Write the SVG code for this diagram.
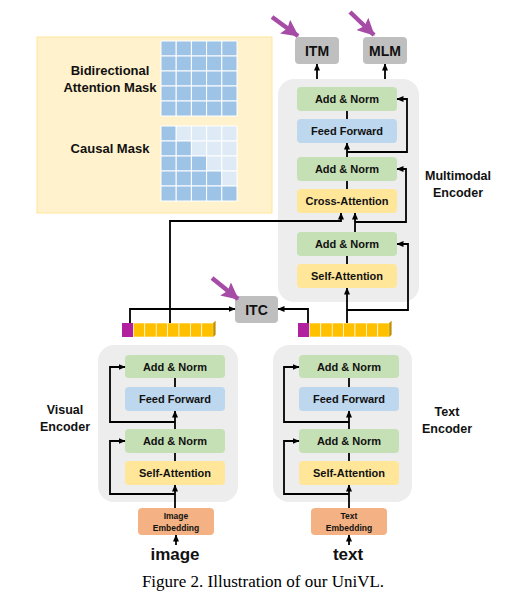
<svg xmlns="http://www.w3.org/2000/svg" width="513" height="610" viewBox="0 0 513 610">
<defs>
<marker id="ah" markerUnits="userSpaceOnUse" markerWidth="7" markerHeight="7" viewBox="0 0 7 7" refX="6.5" refY="3.5" orient="auto"><path d="M0,0.5 L7,3.5 L0,6.5 Z" fill="#000"/></marker>
<marker id="pa" markerUnits="userSpaceOnUse" markerWidth="17" markerHeight="17" viewBox="0 0 17 17" refX="16" refY="8.5" orient="auto"><path d="M0,0 L17,8.5 L0,17 L3,8.5 Z" fill="#a64ca6"/></marker>
</defs>
<style>
.t{font-family:"Liberation Sans",Arial,sans-serif;font-weight:bold;fill:#111;text-anchor:middle}
.b{font-size:11px}
.enc{fill:#ededed}
.g{fill:#c5e0b4}
.bl{fill:#bdd7ee}
.y{fill:#ffe699}
.o{fill:#f4b183}
.gr{fill:#bfbfbf}
.c{fill:none;stroke:#000;stroke-width:1.8}
.ca{fill:none;stroke:#000;stroke-width:1.8;marker-end:url(#ah)}
.p{stroke:#a64ca6;stroke-width:4.5;marker-end:url(#pa)}
.mb{fill:#9dc3e6;stroke:#fff;stroke-width:1}
.ml{fill:#deebf7;stroke:#fff;stroke-width:1}
.tp{fill:#b0209f}
.ty{fill:#ffc000;stroke:#fff;stroke-width:0.6}
.ts{fill:#bf9000}
</style>
<rect width="513" height="610" fill="#fff"/>

<g id="mask-panel">
<rect x="37" y="37" width="235" height="176" fill="#fff2cc" stroke="#ffe699" stroke-width="1"/>
<text class="t" x="110" y="75" font-size="13">Bidirectional</text>
<text class="t" x="110" y="92" font-size="13">Attention Mask</text>
<text class="t" x="110" y="153" font-size="13">Causal Mask</text>
<g id="bidir-grid">
<rect class="mb" x="161" y="41" width="15.2" height="15"/><rect class="mb" x="176.2" y="41" width="15.2" height="15"/><rect class="mb" x="191.4" y="41" width="15.2" height="15"/><rect class="mb" x="206.6" y="41" width="15.2" height="15"/><rect class="mb" x="221.8" y="41" width="15.2" height="15"/>
<rect class="mb" x="161" y="56" width="15.2" height="15"/><rect class="mb" x="176.2" y="56" width="15.2" height="15"/><rect class="mb" x="191.4" y="56" width="15.2" height="15"/><rect class="mb" x="206.6" y="56" width="15.2" height="15"/><rect class="mb" x="221.8" y="56" width="15.2" height="15"/>
<rect class="mb" x="161" y="71" width="15.2" height="15"/><rect class="mb" x="176.2" y="71" width="15.2" height="15"/><rect class="mb" x="191.4" y="71" width="15.2" height="15"/><rect class="mb" x="206.6" y="71" width="15.2" height="15"/><rect class="mb" x="221.8" y="71" width="15.2" height="15"/>
<rect class="mb" x="161" y="86" width="15.2" height="15"/><rect class="mb" x="176.2" y="86" width="15.2" height="15"/><rect class="mb" x="191.4" y="86" width="15.2" height="15"/><rect class="mb" x="206.6" y="86" width="15.2" height="15"/><rect class="mb" x="221.8" y="86" width="15.2" height="15"/>
<rect class="mb" x="161" y="101" width="15.2" height="15"/><rect class="mb" x="176.2" y="101" width="15.2" height="15"/><rect class="mb" x="191.4" y="101" width="15.2" height="15"/><rect class="mb" x="206.6" y="101" width="15.2" height="15"/><rect class="mb" x="221.8" y="101" width="15.2" height="15"/>
</g>
<g id="causal-grid">
<rect class="mb" x="161" y="126" width="15.2" height="15"/><rect class="ml" x="176.2" y="126" width="15.2" height="15"/><rect class="ml" x="191.4" y="126" width="15.2" height="15"/><rect class="ml" x="206.6" y="126" width="15.2" height="15"/><rect class="ml" x="221.8" y="126" width="15.2" height="15"/>
<rect class="mb" x="161" y="141" width="15.2" height="15"/><rect class="mb" x="176.2" y="141" width="15.2" height="15"/><rect class="ml" x="191.4" y="141" width="15.2" height="15"/><rect class="ml" x="206.6" y="141" width="15.2" height="15"/><rect class="ml" x="221.8" y="141" width="15.2" height="15"/>
<rect class="mb" x="161" y="156" width="15.2" height="15"/><rect class="mb" x="176.2" y="156" width="15.2" height="15"/><rect class="mb" x="191.4" y="156" width="15.2" height="15"/><rect class="ml" x="206.6" y="156" width="15.2" height="15"/><rect class="ml" x="221.8" y="156" width="15.2" height="15"/>
<rect class="mb" x="161" y="171" width="15.2" height="15"/><rect class="mb" x="176.2" y="171" width="15.2" height="15"/><rect class="mb" x="191.4" y="171" width="15.2" height="15"/><rect class="mb" x="206.6" y="171" width="15.2" height="15"/><rect class="ml" x="221.8" y="171" width="15.2" height="15"/>
<rect class="mb" x="161" y="186" width="15.2" height="15"/><rect class="mb" x="176.2" y="186" width="15.2" height="15"/><rect class="mb" x="191.4" y="186" width="15.2" height="15"/><rect class="mb" x="206.6" y="186" width="15.2" height="15"/><rect class="mb" x="221.8" y="186" width="15.2" height="15"/>
</g>
</g>

<g id="multimodal-encoder">
<rect class="enc" x="278" y="79" width="141" height="223" rx="16"/>
<text class="t" x="458" y="180" font-size="12.5">Multimodal</text>
<text class="t" x="458" y="197" font-size="12.5">Encoder</text>
</g>
<g id="mm-addnorm-top"><rect class="g" x="297" y="87" width="100" height="24" rx="4"/><text class="t b" x="347" y="103">Add &amp; Norm</text></g>
<g id="mm-ff"><rect class="bl" x="297" y="119" width="100" height="24" rx="4"/><text class="t b" x="347" y="135">Feed Forward</text></g>
<g id="mm-addnorm-mid"><rect class="g" x="297" y="157" width="100" height="24" rx="4"/><text class="t b" x="347" y="173">Add &amp; Norm</text></g>
<g id="mm-cross"><rect class="y" x="297" y="189" width="100" height="24" rx="4"/><text class="t b" x="347" y="205">Cross-Attention</text></g>
<g id="mm-addnorm-bot"><rect class="g" x="297" y="232" width="100" height="24" rx="4"/><text class="t b" x="347" y="248">Add &amp; Norm</text></g>
<g id="mm-self"><rect class="y" x="297" y="264" width="100" height="24" rx="4"/><text class="t b" x="347" y="280">Self-Attention</text></g>

<g id="itm"><rect class="gr" x="295" y="37" width="44" height="27" rx="4"/><text class="t" x="317" y="55.5" font-size="14">ITM</text></g>
<g id="mlm"><rect class="gr" x="363" y="37" width="44" height="27" rx="4"/><text class="t" x="385" y="55.5" font-size="14">MLM</text></g>
<g id="itc"><rect class="gr" x="235" y="296" width="43" height="27" rx="4"/><text class="t" x="256.5" y="314.5" font-size="14">ITC</text></g>

<g id="image-tokens">
<rect class="tp" x="122" y="323" width="11.4" height="14"/>
<rect class="ty" x="133.4" y="323" width="11.4" height="14"/><rect class="ty" x="144.8" y="323" width="11.4" height="14"/><rect class="ty" x="156.2" y="323" width="11.4" height="14"/><rect class="ty" x="167.6" y="323" width="11.4" height="14"/><rect class="ty" x="179" y="323" width="11.4" height="14"/><rect class="ty" x="190.4" y="323" width="11.4" height="14"/><rect class="ty" x="201.8" y="323" width="11.4" height="14"/>
<path class="ts" d="M213.2,323 L215.6,320.8 L215.6,334.8 L213.2,337 Z"/>
</g>
<g id="text-tokens">
<rect class="tp" x="298" y="323" width="11.4" height="14"/>
<rect class="ty" x="309.4" y="323" width="11.4" height="14"/><rect class="ty" x="320.8" y="323" width="11.4" height="14"/><rect class="ty" x="332.2" y="323" width="11.4" height="14"/><rect class="ty" x="343.6" y="323" width="11.4" height="14"/><rect class="ty" x="355" y="323" width="11.4" height="14"/><rect class="ty" x="366.4" y="323" width="11.4" height="14"/><rect class="ty" x="377.8" y="323" width="11.4" height="14"/>
<path class="ts" d="M389.2,323 L391.6,320.8 L391.6,334.8 L389.2,337 Z"/>
</g>

<g id="visual-encoder">
<rect class="enc" x="98" y="345" width="140" height="157" rx="16"/>
<text class="t" x="65" y="414" font-size="12.5">Visual</text>
<text class="t" x="65" y="431" font-size="12.5">Encoder</text>
</g>
<g id="ve-addnorm-top"><rect class="g" x="125" y="355" width="100" height="23" rx="4"/><text class="t b" x="175" y="370.5">Add &amp; Norm</text></g>
<g id="ve-ff"><rect class="bl" x="125" y="387" width="100" height="24" rx="4"/><text class="t b" x="175" y="403">Feed Forward</text></g>
<g id="ve-addnorm-bot"><rect class="g" x="125" y="429" width="100" height="24" rx="4"/><text class="t b" x="175" y="445">Add &amp; Norm</text></g>
<g id="ve-self"><rect class="y" x="125" y="461" width="100" height="24" rx="4"/><text class="t b" x="175" y="477">Self-Attention</text></g>

<g id="text-encoder">
<rect class="enc" x="273" y="345" width="139" height="157" rx="16"/>
<text class="t" x="447" y="416" font-size="12.5">Text</text>
<text class="t" x="447" y="433" font-size="12.5">Encoder</text>
</g>
<g id="te-addnorm-top"><rect class="g" x="299" y="355" width="100" height="23" rx="4"/><text class="t b" x="349" y="370.5">Add &amp; Norm</text></g>
<g id="te-ff"><rect class="bl" x="299" y="387" width="100" height="24" rx="4"/><text class="t b" x="349" y="403">Feed Forward</text></g>
<g id="te-addnorm-bot"><rect class="g" x="299" y="429" width="100" height="24" rx="4"/><text class="t b" x="349" y="445">Add &amp; Norm</text></g>
<g id="te-self"><rect class="y" x="299" y="461" width="100" height="24" rx="4"/><text class="t b" x="349" y="477">Self-Attention</text></g>

<g id="image-embedding"><rect class="o" x="138" y="508" width="76" height="27" rx="4"/><text class="t" x="176" y="519" font-size="8.5">Image</text><text class="t" x="176" y="531" font-size="8.5">Embedding</text></g>
<g id="text-embedding"><rect class="o" x="311" y="508" width="76" height="27" rx="4"/><text class="t" x="349" y="519" font-size="8.5">Text</text><text class="t" x="349" y="531" font-size="8.5">Embedding</text></g>

<g id="inputs">
<text class="t" x="175" y="560" font-size="17">image</text>
<text class="t" x="348" y="560" font-size="17">text</text>
</g>

<g id="connectors">
<path class="ca" d="M317,79 V64"/>
<path class="ca" d="M385,79 V64"/>
<path class="c" d="M347,111 V119"/>
<path class="ca" d="M347,157 V143"/>
<path class="ca" d="M347,152 H407 V99 H397"/>
<path class="c" d="M347,181 V189"/>
<path class="ca" d="M355,232 V213"/>
<path class="ca" d="M355,222 H406 V169 H397"/>
<path class="c" d="M347,256 V264"/>
<path class="ca" d="M347,323 V288"/>
<path class="ca" d="M347,310 H408 V244 H397"/>
<path class="ca" d="M170,323 V221 H341 V213"/>
<path class="ca" d="M130,323 V309 H235"/>
<path class="ca" d="M308,323 V309 H278"/>

<path class="c" d="M175,378 V387"/>
<path class="ca" d="M175,429 V411"/>
<path class="ca" d="M175,422 H110 V367 H125"/>
<path class="c" d="M175,453 V461"/>
<path class="ca" d="M175,508 V485"/>
<path class="ca" d="M175,494 H110 V441 H125"/>
<path class="ca" d="M176,545 V535"/>

<path class="c" d="M349,378 V387"/>
<path class="ca" d="M349,429 V411"/>
<path class="ca" d="M349,422 H284 V367 H299"/>
<path class="c" d="M349,453 V461"/>
<path class="ca" d="M349,508 V485"/>
<path class="ca" d="M349,494 H284 V441 H299"/>
<path class="ca" d="M349,545 V535"/>
</g>

<g id="purple-arrows">
<line class="p" x1="272" y1="17" x2="298" y2="36"/>
<line class="p" x1="350" y1="12" x2="374" y2="35"/>
<line class="p" x1="212" y1="278" x2="238" y2="299"/>
</g>

<text x="263" y="587" font-family="'Liberation Serif','Times New Roman',serif" font-size="17" fill="#000" text-anchor="middle">Figure 2. Illustration of our UniVL.</text>
</svg>
